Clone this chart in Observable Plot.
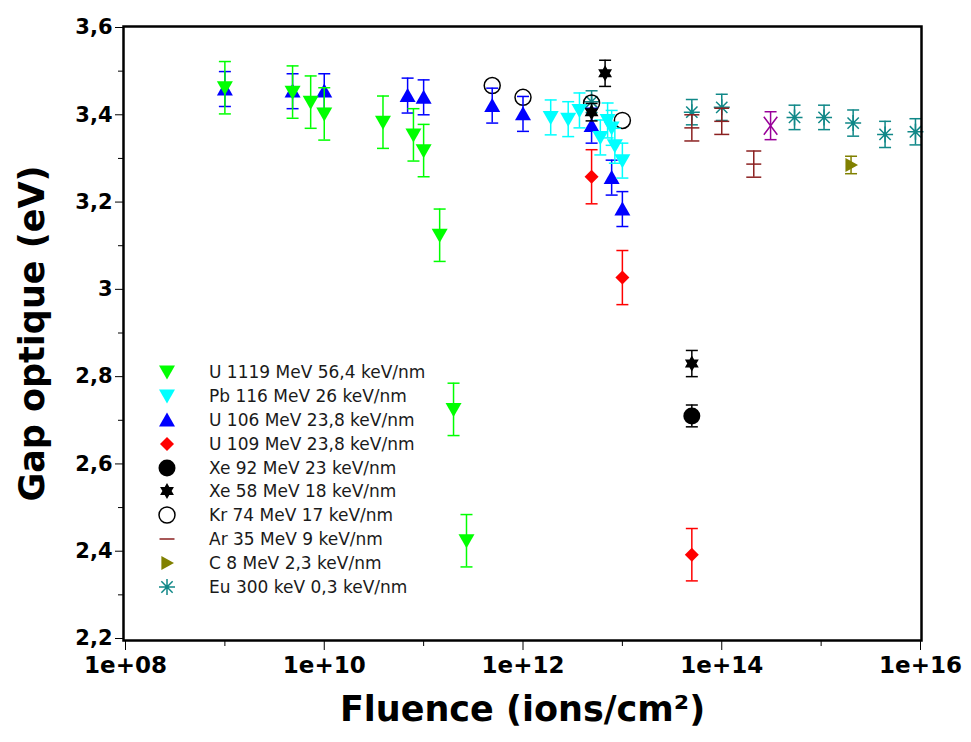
<!DOCTYPE html>
<html><head><meta charset="utf-8">
<script src="https://cdn.jsdelivr.net/npm/d3@7"></script>
<script src="https://cdn.jsdelivr.net/npm/@observablehq/plot@0.6"></script>
<style>
body{margin:0;background:#fff;}
#wrap{position:relative;width:971px;height:742px;font-family:"DejaVu Sans",sans-serif;}
#legend{position:absolute;left:154px;top:360px;}
.row{display:flex;align-items:center;height:23.9px;}
.row svg{width:26px;height:24px;margin-right:29px;flex:none;}
.row span{font-size:17px;color:#1a1a1a;white-space:nowrap;}
#wrap svg g[aria-label$="tick label"]{font-weight:bold;}
</style></head><body><div id="wrap"><div id="legend"></div></div>
<script>
// ---- data: [fluence (ions/cm2), optical gap (eV), error (eV)] ----
const u1119 = [[1e9,3.462,0.06],[4.8e9,3.452,0.06],[7.3e9,3.429,0.06],[1e10,3.402,0.06],[3.9e10,3.383,0.06],[7.9e10,3.354,0.06],[1e11,3.318,0.06],[1.45e11,3.124,0.06],[2e11,2.725,0.06],[2.7e11,2.424,0.06]];
const pb116 = [[1.9e12,3.394,0.04],[2.85e12,3.39,0.04],[3.7e12,3.41,0.04],[6e12,3.348,0.04],[7.1e12,3.387,0.04],[7.8e12,3.37,0.04],[8.4e12,3.329,0.04],[1e13,3.295,0.04]];
const u106 = [[1e9,3.459,0.04],[4.8e9,3.454,0.04],[1e10,3.454,0.04],[6.9e10,3.444,0.04],[1e11,3.44,0.04],[4.9e11,3.421,0.04],[1e12,3.402,0.04],[4.9e12,3.375,0.04],[7.8e12,3.256,0.04],[1e13,3.184,0.04]];
const u109 = [[4.9e12,3.258,0.062],[1e13,3.027,0.062],[5e13,2.392,0.06]];
const xe92 = [[5e13,2.71,0.025]];
const xe58 = [[4.9e12,3.406,0.02],[6.7e12,3.495,0.03],[5e13,2.83,0.03]];
const kr74 = [[4.9e11,3.467,0],[1e12,3.44,0],[4.9e12,3.427,0],[1e13,3.387,0]];
const ar35 = [[5e13,3.37,0.03],[1e14,3.385,0.03],[2.1e14,3.287,0.03]];
const c8 = [[2e15,3.285,0.02]];
const eu300 = [[4.9e12,3.43,0.025],[5e13,3.406,0.029],[1e14,3.417,0.03],[5.4e14,3.394,0.028],[1.07e15,3.394,0.028],[2.1e15,3.381,0.03],[4.4e15,3.355,0.03],[8.9e15,3.361,0.03]];
const unlabeled = [[3.1e14,3.375,0.032]];

const seriesNames = ["U 1119 MeV 56,4 keV/nm","Pb 116 MeV 26 keV/nm","U 106 MeV 23,8 keV/nm","U 109 MeV 23,8 keV/nm","Xe 92 MeV 23 keV/nm","Xe 58 MeV 18 keV/nm","Kr 74 MeV 17 keV/nm","Ar 35 MeV 9 keV/nm","C 8 MeV 2,3 keV/nm","Eu 300 keV 0,3 keV/nm"];
const seriesData = [u1119,pb116,u106,u109,xe92,xe58,kr74,ar35,c8,eu300];

const xTickValues = [1e8,1e10,1e12,1e14,1e16];
const xTickLabels = ["1e+08","1e+10","1e+12","1e+14","1e+16"];
const xMinorTicks = [1e9,1e11,1e13,1e15];
const yTickValues = [2.2,2.4,2.6,2.8,3.0,3.2,3.4,3.6];
const yTickLabels = ["2,2","2,4","2,6","2,8","3","3,2","3,4","3,6"];
const yMinorTicks = [2.3,2.5,2.7,2.9,3.1,3.3,3.5];

// ---- symbols ----
const S = f => ({draw(c, size){ f(c, Math.sqrt(size/Math.PI)); }});
const triDown = S((c,r)=>{c.moveTo(-r,-0.8*r);c.lineTo(r,-0.8*r);c.lineTo(0,0.95*r);c.closePath();});
const triUp = S((c,r)=>{c.moveTo(-r,0.8*r);c.lineTo(r,0.8*r);c.lineTo(0,-0.95*r);c.closePath();});
const triRight = S((c,r)=>{c.moveTo(-0.8*r,-r);c.lineTo(-0.8*r,r);c.lineTo(r,0);c.closePath();});
const diamond = S((c,r)=>{c.moveTo(0,-r);c.lineTo(r,0);c.lineTo(0,r);c.lineTo(-r,0);c.closePath();});
const hexagram = S((c,r)=>{
  for (const a0 of [0, Math.PI]) {
    for (let i=0;i<3;i++){const a=a0+i*2*Math.PI/3;const x=r*Math.sin(a),y=-r*Math.cos(a); if(i)c.lineTo(x,y); else c.moveTo(x,y);}
    c.closePath();
  }
});
const hline = S((c,r)=>{c.moveTo(-r,0);c.lineTo(r,0);});
const ast8 = S((c,r)=>{const d=r*0.7071;c.moveTo(-r,0);c.lineTo(r,0);c.moveTo(0,-r);c.lineTo(0,r);c.moveTo(-d,-d);c.lineTo(d,d);c.moveTo(-d,d);c.lineTo(d,-d);});
const timesTall = S((c,r)=>{c.moveTo(-0.75*r,-r);c.lineTo(0.75*r,r);c.moveTo(-0.75*r,r);c.lineTo(0.75*r,-r);});
const circle = d3.symbolCircle;

// ---- styles ----
const styles = [
  {color:"#00ff00", symbol:triDown, r:8, fill:true},
  {color:"#00ffff", symbol:triDown, r:8, fill:true},
  {color:"#0000ff", symbol:triUp, r:8, fill:true},
  {color:"#ff0000", symbol:diamond, r:7, fill:true},
  {color:"#000000", symbol:circle, r:8.5, fill:true},
  {color:"#000000", symbol:hexagram, r:8, fill:true},
  {color:"#000000", symbol:circle, r:8, fill:false, sw:1.5},
  {color:"#8b2020", symbol:hline, r:7.5, fill:false, sw:1.5, cap:7.5},
  {color:"#808000", symbol:triRight, r:7, fill:true},
  {color:"#108888", symbol:ast8, r:8, fill:false, sw:1.5, dot:true}
];
const unlabeledStyle = {color:"#990099", symbol:timesTall, r:9, fill:false, sw:1.5};

const drawOrder = [9,7,8,6,2,1,0,3,4,5];

const toRows = arr => arr.map(([x,y,e]) => ({x,y,e}));
function seriesMarks(arr, st) {
  const data = toRows(arr);
  const eb = data.filter(d => d.e > 0);
  const cap = st.cap || 6;
  const m = [
    Plot.ruleX(eb, {x:"x", y1:d=>d.y-d.e, y2:d=>d.y+d.e, stroke:st.color, strokeWidth:1.5}),
    Plot.dot(eb, {x:"x", y:d=>d.y-d.e, symbol:hline, r:cap, stroke:st.color, strokeWidth:1.5, fill:"none"}),
    Plot.dot(eb, {x:"x", y:d=>d.y+d.e, symbol:hline, r:cap, stroke:st.color, strokeWidth:1.5, fill:"none"}),
    Plot.dot(data, {x:"x", y:"y", symbol:st.symbol, r:st.r,
      fill: st.fill ? st.color : "none", stroke: st.fill ? "none" : st.color, strokeWidth: st.sw || 1})
  ];
  if (st.dot) m.push(Plot.dot(data, {x:"x", y:"y", r:2, fill:st.color, stroke:"none"}));
  return m;
}

const marks = [];
for (const i of drawOrder) {
  marks.push(...seriesMarks(seriesData[i], styles[i]));
  if (i === 7) marks.push(...seriesMarks(unlabeled, unlabeledStyle));
}

const chart = Plot.plot({
  width: 971, height: 742,
  marginLeft: 123, marginRight: 50, marginTop: 26, marginBottom: 102,
  x: {type:"log", domain:[1e8,1e16], insetLeft:2, insetRight:1},
  y: {domain:[2.2,3.6], insetTop:1, insetBottom:2},
  style: {fontFamily:"DejaVu Sans, sans-serif", background:"white", color:"black"},
  marks: [
    ...marks,
    Plot.axisY({ticks:yTickValues, tickFormat:d=>yTickLabels[yTickValues.findIndex(v=>Math.abs(v-d)<1e-9)], tickSize:8, tickPadding:3, fontSize:21, fontWeight:"bold", label:null}),
    Plot.axisY({ticks:yMinorTicks, tickFormat:()=>"", tickSize:5, label:null}),
    Plot.axisX({ticks:xTickValues, tickFormat:d=>xTickLabels[xTickValues.indexOf(d)], tickSize:10, tickPadding:6, fontSize:23, fontWeight:"bold", label:null}),
    Plot.axisX({ticks:xMinorTicks, tickFormat:()=>"", tickSize:6, label:null}),
    Plot.frame({stroke:"black", strokeWidth:2.5}),
    Plot.text(["Fluence (ions/cm²)"], {text:d=>d, frameAnchor:"bottom", dy:80, fontSize:35, fontWeight:"bold", fill:"black"}),
    Plot.text(["Gap optique (eV)"], {text:d=>d, frameAnchor:"left", textAnchor:"middle", dx:-91, rotate:-90, fontSize:35, fontWeight:"bold", fill:"black"})
  ]
});
document.getElementById("wrap").prepend(chart);

// ---- legend ----
const legend = d3.select("#legend");
seriesNames.forEach((name, i) => {
  const st = styles[i];
  const row = legend.append("div").attr("class","row");
  const svg = row.append("svg").attr("viewBox","0 0 26 24");
  svg.append("path")
    .attr("transform","translate(13,12)")
    .attr("d", d3.symbol(st.symbol, Math.PI*st.r*st.r)())
    .attr("fill", st.fill ? st.color : "none")
    .attr("stroke", st.fill ? "none" : st.color)
    .attr("stroke-width", st.sw || 1);
  row.append("span").text(name);
});
</script>
</body></html>
